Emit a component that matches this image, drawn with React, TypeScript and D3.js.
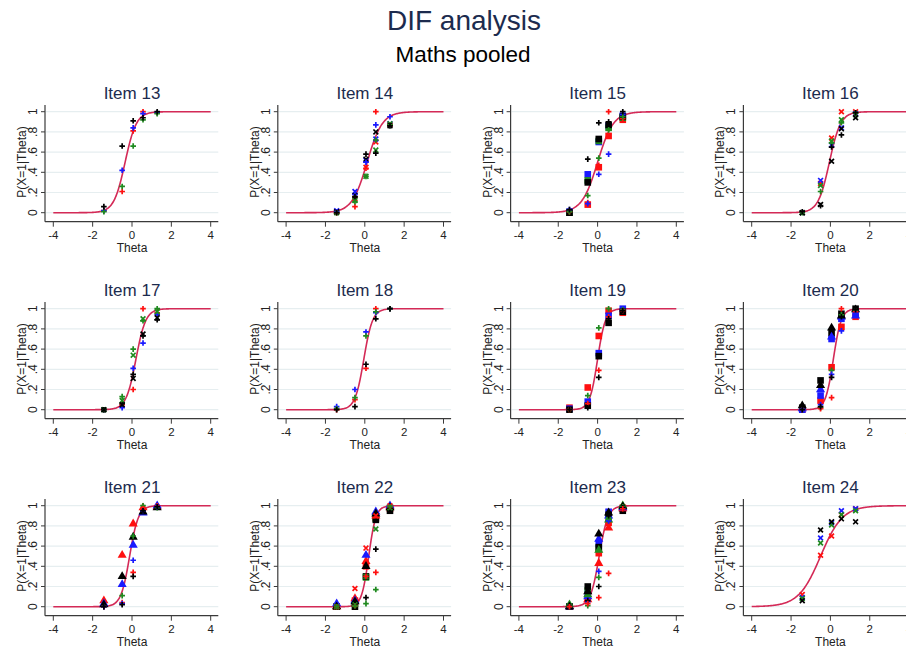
import React, { useEffect, useRef } from "react";
import * as d3 from "d3";

const width = 906;
const height = 647;

// ability groups (theta) where observed proportions are plotted
const thetaGroups = [-1.43, -0.5, 0.06, 0.56, 1.28];

const itemNumbers = [13, 14, 15, 16, 17, 18, 19, 20, 21, 22, 23, 24];
// fitted item characteristic curve: slope and location
const itemSlope = [3.5, 2.6, 2.5, 3.5, 4.0, 4.5, 5.0, 5.0, 4.5, 5.5, 4.5, 1.8];
const itemLocation = [-0.35, 0.12, 0.0, -0.05, 0.2, -0.05, 0.0, 0.15, -0.12, 0.2, 0.08, -0.5];

const xTicks = [-4, -2, 0, 2, 4];
const yTicks = [0, 0.2, 0.4, 0.6, 0.8, 1];
const yTickLabels = ["0", ".2", ".4", ".6", ".8", "1"];

// observed proportions: [group, marker, values at thetaGroups]
const item13Points = [
  ["red", "plus", [0.02, 0.21, 0.81, 1.0, 0.99]],
  ["blue", "plus", [0.02, 0.42, 0.84, 0.98, 0.99]],
  ["green", "plus", [0.01, 0.26, 0.66, 0.92, 0.98]],
  ["black", "plus", [0.06, 0.66, 0.91, 0.94, 1.0]],
];
const item14Points = [
  ["red", "x", [0.01, 0.14, 0.45, 0.7, 0.87]],
  ["blue", "x", [0.02, 0.21, 0.52, 0.73, 0.88]],
  ["green", "x", [0.0, 0.12, 0.36, 0.62, 0.88]],
  ["black", "x", [0.01, 0.17, 0.53, 0.8, 0.86]],
  ["red", "plus", [0.0, 0.06, 0.44, 1.0, 0.87]],
  ["blue", "plus", [0.01, 0.18, 0.5, 0.87, 0.95]],
  ["green", "plus", [0.0, 0.11, 0.36, 0.72, 0.87]],
  ["black", "plus", [0.0, 0.16, 0.58, 0.59, 0.86]],
];
const item15Points = [
  ["red", "square", [0.0, 0.08, 0.45, 0.76, 0.92]],
  ["blue", "square", [0.01, 0.38, 0.7, 0.86, 0.96]],
  ["green", "square", [0.0, 0.32, 0.71, 0.84, 0.94]],
  ["black", "square", [0.0, 0.3, 0.73, 0.87, 0.95]],
  ["red", "plus", [0.01, 0.1, 0.47, 1.0, 0.93]],
  ["blue", "plus", [0.03, 0.09, 0.38, 0.58, 0.97]],
  ["green", "plus", [0.01, 0.17, 0.54, 0.82, 0.95]],
  ["black", "plus", [0.03, 0.53, 0.89, 0.9, 1.0]],
];
const item16Points = [
  ["red", "x", [0.0, 0.29, 0.74, 1.0, 1.0]],
  ["blue", "x", [0.0, 0.32, 0.67, 0.84, 0.98]],
  ["green", "x", [0.0, 0.27, 0.71, 0.92, 0.97]],
  ["black", "x", [0.0, 0.08, 0.51, 0.83, 0.94]],
  ["green", "plus", [0.0, 0.21, 0.69, 0.89, 0.99]],
  ["black", "plus", [0.01, 0.07, 0.65, 0.77, 0.99]],
];
const item17Points = [
  ["red", "plus", [0.0, 0.05, 0.2, 1.0, 0.96]],
  ["blue", "plus", [0.0, 0.02, 0.41, 0.66, 0.94]],
  ["green", "plus", [0.0, 0.13, 0.6, 0.88, 1.0]],
  ["black", "plus", [0.0, 0.06, 0.35, 0.73, 0.89]],
  ["green", "x", [0.0, 0.09, 0.54, 0.9, 0.97]],
  ["black", "x", [0.0, 0.05, 0.31, 0.75, 0.91]],
];
const item18Points = [
  ["red", "plus", [0.0, 0.1, 0.41, 1.0, 1.0]],
  ["blue", "plus", [0.03, 0.2, 0.77, 0.96, 1.0]],
  ["green", "plus", [0.01, 0.12, 0.73, 0.97, 1.0]],
  ["black", "plus", [0.0, 0.03, 0.45, 0.9, 1.0]],
];
const item19Points = [
  ["red", "square", [0.02, 0.22, 0.73, 0.98, 0.96]],
  ["blue", "square", [0.01, 0.08, 0.56, 0.93, 1.0]],
  ["black", "square", [0.0, 0.04, 0.53, 0.86, 0.97]],
  ["green", "plus", [0.0, 0.14, 0.81, 1.0, 0.99]],
  ["red", "plus", [0.0, 0.06, 0.39, 0.92, 0.98]],
  ["black", "plus", [0.0, 0.02, 0.32, 0.9, 0.98]],
];
const item20Points = [
  ["red", "square", [0.0, 0.09, 0.42, 0.82, 0.92]],
  ["blue", "square", [0.0, 0.14, 0.7, 0.9, 0.96]],
  ["black", "square", [0.02, 0.29, 0.76, 0.95, 1.0]],
  ["blue", "triangle", [0.01, 0.2, 0.72, 0.92, 0.93]],
  ["black", "triangle", [0.04, 0.24, 0.81, 0.93, 0.99]],
  ["green", "plus", [0.0, 0.02, 0.39, 0.94, 0.98]],
  ["red", "plus", [0.0, 0.01, 0.12, 1.0, 0.97]],
  ["blue", "plus", [0.0, 0.05, 0.35, 0.78, 0.95]],
  ["black", "plus", [0.0, 0.03, 0.32, 0.92, 0.99]],
];
const item21Points = [
  ["red", "triangle", [0.06, 0.51, 0.82, 0.98, 0.99]],
  ["blue", "triangle", [0.03, 0.22, 0.61, 0.93, 1.0]],
  ["black", "triangle", [0.02, 0.3, 0.69, 0.94, 0.98]],
  ["green", "plus", [0.0, 0.11, 0.7, 1.0, 0.98]],
  ["red", "plus", [0.0, 0.04, 0.34, 0.97, 1.0]],
  ["blue", "plus", [0.0, 0.03, 0.46, 0.95, 0.99]],
  ["black", "plus", [0.0, 0.02, 0.3, 0.95, 0.99]],
];
const item22Points = [
  ["red", "square", [0.0, 0.06, 0.4, 0.88, 0.97]],
  ["green", "square", [0.0, 0.03, 0.29, 0.87, 0.98]],
  ["black", "square", [0.0, 0.0, 0.3, 0.86, 0.95]],
  ["red", "triangle", [0.0, 0.08, 0.45, 0.9, 0.99]],
  ["blue", "triangle", [0.03, 0.06, 0.51, 0.94, 1.0]],
  ["black", "triangle", [0.0, 0.05, 0.4, 0.92, 0.98]],
  ["red", "x", [0.0, 0.18, 0.58, 0.9, 1.0]],
  ["green", "x", [0.0, 0.02, 0.3, 0.77, 0.98]],
  ["black", "plus", [0.0, 0.02, 0.09, 0.57, 0.98]],
  ["red", "plus", [0.0, 0.01, 0.3, 0.34, 0.99]],
  ["green", "plus", [0.0, 0.01, 0.03, 0.17, 0.99]],
];
const item23Points = [
  ["red", "square", [0.0, 0.08, 0.53, 0.83, 0.98]],
  ["blue", "square", [0.0, 0.13, 0.62, 0.94, 0.97]],
  ["green", "square", [0.0, 0.16, 0.58, 0.88, 0.97]],
  ["black", "square", [0.0, 0.2, 0.59, 0.91, 0.95]],
  ["red", "triangle", [0.0, 0.07, 0.43, 0.78, 0.97]],
  ["blue", "triangle", [0.0, 0.1, 0.67, 0.9, 0.98]],
  ["green", "triangle", [0.02, 0.12, 0.56, 0.86, 1.0]],
  ["black", "triangle", [0.0, 0.15, 0.72, 0.93, 0.99]],
  ["blue", "plus", [0.0, 0.05, 0.35, 0.85, 0.98]],
  ["green", "plus", [0.0, 0.01, 0.29, 0.88, 0.99]],
  ["black", "plus", [0.0, 0.06, 0.2, 0.9, 0.98]],
  ["red", "plus", [0.0, 0.03, 0.09, 0.33, 0.97]],
];
const item24Points = [
  ["red", "x", [0.12, 0.51, 0.7, 0.91, 0.97]],
  ["blue", "x", [0.09, 0.68, 0.83, 0.95, 0.97]],
  ["green", "x", [0.08, 0.63, 0.81, 0.91, 0.95]],
  ["black", "x", [0.06, 0.76, 0.84, 0.87, 0.84]],
];

const itemPoints = [
  item13Points, item14Points, item15Points, item16Points,
  item17Points, item18Points, item19Points, item20Points,
  item21Points, item22Points, item23Points, item24Points,
];

const groupColor = {
  red: "#ff1010",
  blue: "#1a1aff",
  green: "#1f8a1f",
  black: "#000000",
};

const navy = "#1c2b4e";
const curveColor = "#d42a57";
const font = "'Liberation Sans', Arial, sans-serif";

export default function App() {
  const chartRef = useRef(null);

  useEffect(() => {
    drawChart();
  }, []);

  const drawChart = () => {
    d3.select(chartRef.current).selectAll("*").remove();

    const svg = d3
      .select(chartRef.current)
      .append("svg")
      .attr("width", width)
      .attr("height", height)
      .style("position", "absolute")
      .style("left", "0px")
      .style("top", "0px")
      .style("background", "#fff")
      .style("font-family", font);

    svg
      .append("text")
      .attr("x", 464)
      .attr("y", 30)
      .attr("text-anchor", "middle")
      .attr("font-size", 28)
      .attr("fill", navy)
      .text("DIF analysis");

    svg
      .append("text")
      .attr("x", 463)
      .attr("y", 62)
      .attr("text-anchor", "middle")
      .attr("font-size", 22.5)
      .attr("fill", "#000")
      .text("Maths pooled");

    const colStep = 232.8;
    const rowStep = 197;
    const thetaGrid = d3.range(-4, 4.0001, 0.04);

    itemNumbers.forEach((item, i) => {
      const col = i % 4;
      const row = Math.floor(i / 4);
      const g = svg
        .append("g")
        .attr("transform", `translate(${col * colStep},${row * rowStep})`);

      const x = d3.scaleLinear().domain([-4, 4]).range([53.3, 210.7]);
      const y = d3.scaleLinear().domain([0, 1]).range([212.7, 111.7]);
      const axisLeft = 45;
      const axisBottom = 221.7;
      const plotRight = 218.3;
      const plotTop = 105;

      // gridlines
      g.selectAll(".grid")
        .data(yTicks)
        .enter()
        .append("line")
        .attr("x1", axisLeft + 1)
        .attr("x2", plotRight)
        .attr("y1", (d) => y(d))
        .attr("y2", (d) => y(d))
        .attr("stroke", "#e6eef0")
        .attr("stroke-width", 1.2);

      // axes
      const axisColor = "#3a3a3a";
      g.append("line")
        .attr("x1", axisLeft)
        .attr("x2", axisLeft)
        .attr("y1", plotTop)
        .attr("y2", axisBottom)
        .attr("stroke", axisColor)
        .attr("stroke-width", 1.2);
      g.append("line")
        .attr("x1", axisLeft)
        .attr("x2", plotRight)
        .attr("y1", axisBottom)
        .attr("y2", axisBottom)
        .attr("stroke", axisColor)
        .attr("stroke-width", 1.2);

      g.selectAll(".ytick")
        .data(yTicks)
        .enter()
        .append("line")
        .attr("x1", axisLeft - 4)
        .attr("x2", axisLeft)
        .attr("y1", (d) => y(d))
        .attr("y2", (d) => y(d))
        .attr("stroke", axisColor);
      g.selectAll(".ylab")
        .data(yTicks)
        .enter()
        .append("text")
        .attr("transform", (d) => `translate(37,${y(d)}) rotate(-90)`)
        .attr("text-anchor", "middle")
        .attr("font-size", 12)
        .attr("fill", "#222")
        .text((d, k) => yTickLabels[k]);

      g.selectAll(".xtick")
        .data(xTicks)
        .enter()
        .append("line")
        .attr("x1", (d) => x(d))
        .attr("x2", (d) => x(d))
        .attr("y1", axisBottom)
        .attr("y2", axisBottom + 5)
        .attr("stroke", axisColor);
      g.selectAll(".xlab")
        .data(xTicks)
        .enter()
        .append("text")
        .attr("x", (d) => x(d))
        .attr("y", 239)
        .attr("text-anchor", "middle")
        .attr("font-size", 11.5)
        .attr("fill", "#222")
        .text((d) => d);

      g.append("text")
        .attr("x", 132)
        .attr("y", 251.5)
        .attr("text-anchor", "middle")
        .attr("font-size", 12)
        .attr("fill", "#222")
        .text("Theta");

      g.append("text")
        .attr("transform", `translate(26,162) rotate(-90)`)
        .attr("text-anchor", "middle")
        .attr("font-size", 12)
        .attr("fill", "#222")
        .text("P(X=1|Theta)");

      g.append("text")
        .attr("x", 132)
        .attr("y", 99)
        .attr("text-anchor", "middle")
        .attr("font-size", 17)
        .attr("fill", navy)
        .text("Item " + item);

      // fitted curve
      const a = itemSlope[i];
      const b = itemLocation[i];
      const line = d3
        .line()
        .x((t) => x(t))
        .y((t) => y(1 / (1 + Math.exp(-a * (t - b)))))
        .curve(d3.curveMonotoneX);
      g.append("path")
        .datum(thetaGrid)
        .attr("d", line)
        .attr("fill", "none")
        .attr("stroke", curveColor)
        .attr("stroke-width", 1.6);

      // observed proportions
      itemPoints[i].forEach(([group, shape, values]) => {
        const color = groupColor[group];
        values.forEach((v, k) => {
          const px = x(thetaGroups[k]);
          const py = y(v);
          if (shape === "plus") {
            g.append("path")
              .attr("d", "M-2.8,0H2.8M0,-2.8V2.8")
              .attr("transform", `translate(${px},${py})`)
              .attr("stroke", color)
              .attr("stroke-width", 1.7);
          } else if (shape === "x") {
            g.append("path")
              .attr("d", "M-2.4,-2.4L2.4,2.4M-2.4,2.4L2.4,-2.4")
              .attr("transform", `translate(${px},${py})`)
              .attr("stroke", color)
              .attr("stroke-width", 1.7);
          } else if (shape === "square") {
            g.append("rect")
              .attr("x", px - 3.3)
              .attr("y", py - 3.3)
              .attr("width", 6.6)
              .attr("height", 6.6)
              .attr("fill", color);
          } else {
            g.append("path")
              .attr("d", d3.symbol().type(d3.symbolTriangle).size(36)())
              .attr("transform", `translate(${px},${py})`)
              .attr("fill", color);
          }
        });
      });
    });
  };

  return <div ref={chartRef}></div>;
}
